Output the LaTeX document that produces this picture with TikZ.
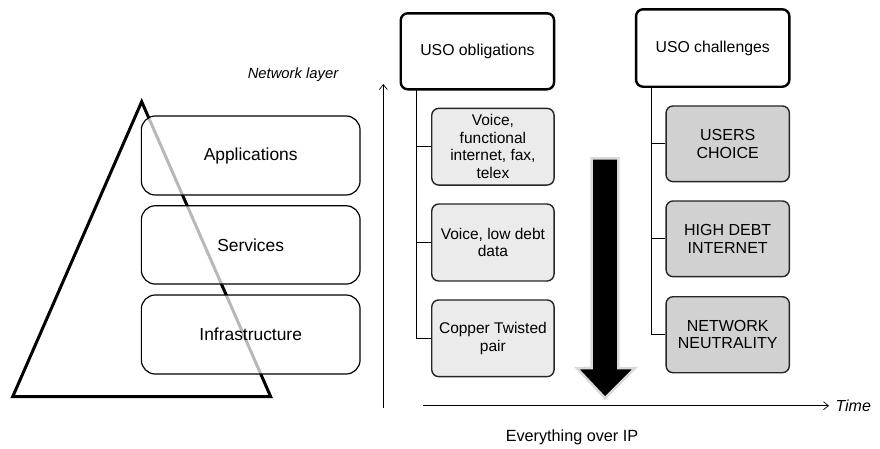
\documentclass[tikz,border=0pt]{standalone}
\usepackage{fontspec}
\setmainfont{Liberation Sans}
\usetikzlibrary{arrows.meta}
\begin{document}
\begin{tikzpicture}[x=1pt,y=-1pt,
  layerbox/.style={draw=black, line width=1.2pt, rounded corners=14pt, fill=white, fill opacity=0.72, text opacity=1, minimum width=218.7pt, font=\fontsize{17.4}{20}\selectfont},
  headbox/.style={draw=black, line width=2.4pt, rounded corners=7pt, fill=white, font=\fontsize{15.8}{19}\selectfont},
  obox/.style={draw=black!85, line width=1.4pt, rounded corners=7pt, fill=black!8, align=center, font=\fontsize{15.5}{17.5}\selectfont, inner sep=0pt},
  cbox/.style={draw=black!85, line width=1.4pt, rounded corners=7pt, fill=black!18, align=center, font=\fontsize{16}{17.5}\selectfont, inner sep=0pt},
  link/.style={draw=black, line width=1.3pt},
  axis/.style={draw=black, line width=0.7pt, -{Straight Barb[length=5pt,width=8pt]}}]
\useasboundingbox (0,0) rectangle (880,448);
% pyramid
\coordinate (apex) at (141.7,101.7);
\coordinate (bl) at (12.7,396.7);
\coordinate (br) at (270.7,396.7);
\draw[line width=3pt, line join=miter] (apex) -- (bl) -- (br) -- cycle;
% layer boxes
\node[layerbox, minimum height=79pt] (app) at (250.7,155.5) {Applications};
\node[layerbox, minimum height=78.3pt] (srv) at (250.7,244.9) {Services};
\node[layerbox, minimum height=79pt] (inf) at (250.7,334.5) {Infrastructure};
\node[font=\fontsize{14.8}{17}\selectfont\itshape] (nl) at (293,75) {Network layer};
% axes
\coordinate (vb) at (383.3,408);
\coordinate (vt) at (383.3,84);
\draw[axis] (vb) -- (vt);
\coordinate (tl) at (423,405.7);
\coordinate (tr) at (829,405.7);
\draw[axis] (tl) -- (tr);
\node[font=\fontsize{16}{19}\selectfont\itshape, anchor=west] (time) at (832,405.7) {Time};
\node[font=\fontsize{16.2}{19}\selectfont] (eip) at (572,437) {Everything over IP};
% USO obligations
\node[headbox, minimum width=153.3pt, minimum height=76pt] (obl) at (477.4,51.3) {USO obligations};
\node[obox, minimum width=122.3pt, minimum height=76.7pt] (o1) at (492.9,146.7) {Voice,\\functional\\internet, fax,\\telex};
\node[obox, minimum width=122.3pt, minimum height=77pt] (o2) at (492.9,242.5) {Voice, low debt\\data};
\node[obox, minimum width=122.3pt, minimum height=76.7pt] (o3) at (492.9,338.3) {Copper Twisted\\pair};
\coordinate (otrunk) at (416.7,89.3);
\draw[link] (otrunk) |- (o1.west);
\draw[link] (otrunk) |- (o2.west);
\draw[link] (otrunk) |- (o3.west);
% big arrow
\draw[draw=black!15, line width=2.5pt, fill=black, line join=miter]
  (591.7,158.3) -- (618.3,158.3) -- (618.3,368) -- (635,368) -- (605,398)
  -- (576.7,368) -- (591.7,368) -- cycle;
% USO challenges
\node[headbox, minimum width=153.3pt, minimum height=77.4pt] (chl) at (712.7,48) {USO challenges};
\node[cbox, minimum width=123.3pt, minimum height=75.7pt] (c1) at (727.7,143.8) {USERS\\CHOICE};
\node[cbox, minimum width=123.3pt, minimum height=75.7pt] (c2) at (727.7,238.8) {HIGH DEBT\\INTERNET};
\node[cbox, minimum width=123.3pt, minimum height=76pt] (c3) at (727.7,334.7) {NETWORK\\NEUTRALITY};
\coordinate (ctrunk) at (651.7,86.7);
\draw[link] (ctrunk) |- (c1.west);
\draw[link] (ctrunk) |- (c2.west);
\draw[link] (ctrunk) |- (c3.west);
\end{tikzpicture}
\end{document}
